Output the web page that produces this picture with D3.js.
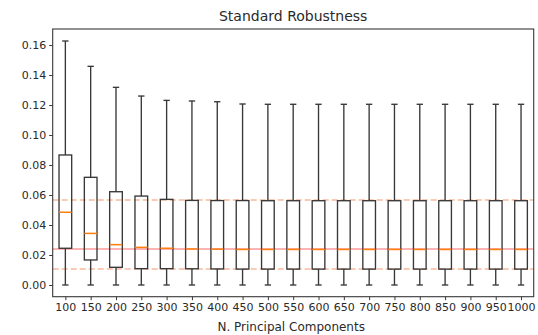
<!DOCTYPE html>
<html>
<head>
<meta charset="utf-8">
<script src="https://cdn.jsdelivr.net/npm/d3@7"></script>
<style>
  html, body { margin: 0; padding: 0; background: #fff; }
  svg { display: block; font-family: "DejaVu Sans", sans-serif; }
</style>
</head>
<body>
<svg id="chart" width="538" height="335"></svg>
<script>
// Number of principal components per box
const categories = ["100","150","200","250","300","350","400","450","500","550",
                    "600","650","700","750","800","850","900","950","1000"];
// Box statistics per category
const whiskerLow  = [0, 0, 0, 0, 0, 0, 0, 0, 0, 0, 0, 0, 0, 0, 0, 0, 0, 0, 0];
const q1          = [0.0245, 0.0167, 0.0118, 0.0109, 0.0109, 0.0108, 0.0107, 0.0106, 0.0106, 0.0106,
                     0.0106, 0.0106, 0.0106, 0.0106, 0.0106, 0.0106, 0.0106, 0.0106, 0.0106];
const medians     = [0.0485, 0.0344, 0.0269, 0.0251, 0.0245, 0.0240, 0.0239, 0.0237, 0.0237, 0.0237,
                     0.0237, 0.0237, 0.0237, 0.0237, 0.0237, 0.0237, 0.0237, 0.0237, 0.0237];
const q3          = [0.0867, 0.0718, 0.0622, 0.0593, 0.0571, 0.0564, 0.0563, 0.0563, 0.0562, 0.0562,
                     0.0562, 0.0562, 0.0562, 0.0562, 0.0562, 0.0562, 0.0562, 0.0562, 0.0562];
const whiskerHigh = [0.1627, 0.1458, 0.1318, 0.1260, 0.1231, 0.1227, 0.1222, 0.1207, 0.1205, 0.1205,
                     0.1205, 0.1205, 0.1205, 0.1205, 0.1205, 0.1205, 0.1205, 0.1205, 0.1205];
// Horizontal reference levels
const refMean = [0.0240];
const refBand = [0.0107, 0.0566];
const yTicks = [0.00, 0.02, 0.04, 0.06, 0.08, 0.10, 0.12, 0.14, 0.16];

const svg = d3.select("#chart");
const margin = { left: 52.7, right: 538 - 533.7, top: 29, bottom: 335 - 296.7 };
const W = 538, H = 335;
const x0 = margin.left, x1 = W - margin.right, y0 = margin.top, y1 = H - margin.bottom;

const x = d3.scalePoint().domain(categories).range([x0, x1]).padding(0.5);
const y = d3.scaleLinear().domain([-0.0078, 0.1707]).range([y1, y0]);
const step = x.step();
const boxW = step * 0.5;
const capW = boxW * 0.5;

const textColor = "#2a2a2a";
const lineColor = "#383838";
const sw = 1.35;

// Reference lines
const gRef = svg.append("g");
gRef.selectAll("line.band").data(refBand).join("line")
  .attr("x1", x0).attr("x2", x1)
  .attr("y1", d => y(d)).attr("y2", d => y(d))
  .attr("stroke", "#f7b99c").attr("stroke-width", 1.5)
  .attr("stroke-dasharray", "6,3");
gRef.selectAll("line.mean").data(refMean).join("line")
  .attr("x1", x0).attr("x2", x1)
  .attr("y1", d => y(d)).attr("y2", d => y(d))
  .attr("stroke", "#ff9a9a").attr("stroke-width", 1.5);

// Boxes
const rows = categories.map((c, i) => ({
  c, lo: whiskerLow[i], q1: q1[i], med: medians[i], q3: q3[i], hi: whiskerHigh[i]
}));
const g = svg.append("g").selectAll("g").data(rows).join("g")
  .attr("transform", d => `translate(${x(d.c)},0)`);

g.append("line").attr("x1", 0).attr("x2", 0)
  .attr("y1", d => y(d.q3)).attr("y2", d => y(d.hi))
  .attr("stroke", lineColor).attr("stroke-width", sw);
g.append("line").attr("x1", 0).attr("x2", 0)
  .attr("y1", d => y(d.q1)).attr("y2", d => y(d.lo))
  .attr("stroke", lineColor).attr("stroke-width", sw);
g.append("line").attr("x1", -capW / 2).attr("x2", capW / 2)
  .attr("y1", d => y(d.hi)).attr("y2", d => y(d.hi))
  .attr("stroke", lineColor).attr("stroke-width", sw);
g.append("line").attr("x1", -capW / 2).attr("x2", capW / 2)
  .attr("y1", d => y(d.lo)).attr("y2", d => y(d.lo))
  .attr("stroke", lineColor).attr("stroke-width", sw);
g.append("rect")
  .attr("x", -boxW / 2).attr("width", boxW)
  .attr("y", d => y(d.q3)).attr("height", d => y(d.q1) - y(d.q3))
  .attr("fill", "none").attr("stroke", lineColor).attr("stroke-width", sw);
g.append("line").attr("x1", -boxW / 2).attr("x2", boxW / 2)
  .attr("y1", d => y(d.med)).attr("y2", d => y(d.med))
  .attr("stroke", "#ff7f0e").attr("stroke-width", 1.5);

// Axes
const xAxis = svg.append("g").attr("transform", `translate(0,${y1})`)
  .call(d3.axisBottom(x).tickSize(3.5).tickPadding(3));
const yAxis = svg.append("g").attr("transform", `translate(${x0},0)`)
  .call(d3.axisLeft(y).tickValues(yTicks).tickFormat(d3.format(".2f")).tickSize(3.5).tickPadding(3));
[xAxis, yAxis].forEach(a => {
  a.select(".domain").remove();
  a.selectAll(".tick line").attr("stroke", lineColor).attr("stroke-width", 1);
  a.selectAll(".tick text").attr("fill", textColor)
    .style("font-size", "11px").style("font-family", "DejaVu Sans, sans-serif");
});

// Frame
svg.append("rect").attr("x", x0).attr("y", y0)
  .attr("width", x1 - x0).attr("height", y1 - y0)
  .attr("fill", "none").attr("stroke", lineColor).attr("stroke-width", 1.1);

// Title and axis label
svg.append("text").attr("x", (x0 + x1) / 2).attr("y", 21)
  .attr("text-anchor", "middle").attr("fill", textColor)
  .style("font-size", "14px").text("Standard Robustness");
svg.append("text").attr("x", (x0 + x1) / 2 - 2).attr("y", 331)
  .attr("text-anchor", "middle").attr("fill", textColor)
  .style("font-size", "12px").text("N. Principal Components");
</script>
</body>
</html>
